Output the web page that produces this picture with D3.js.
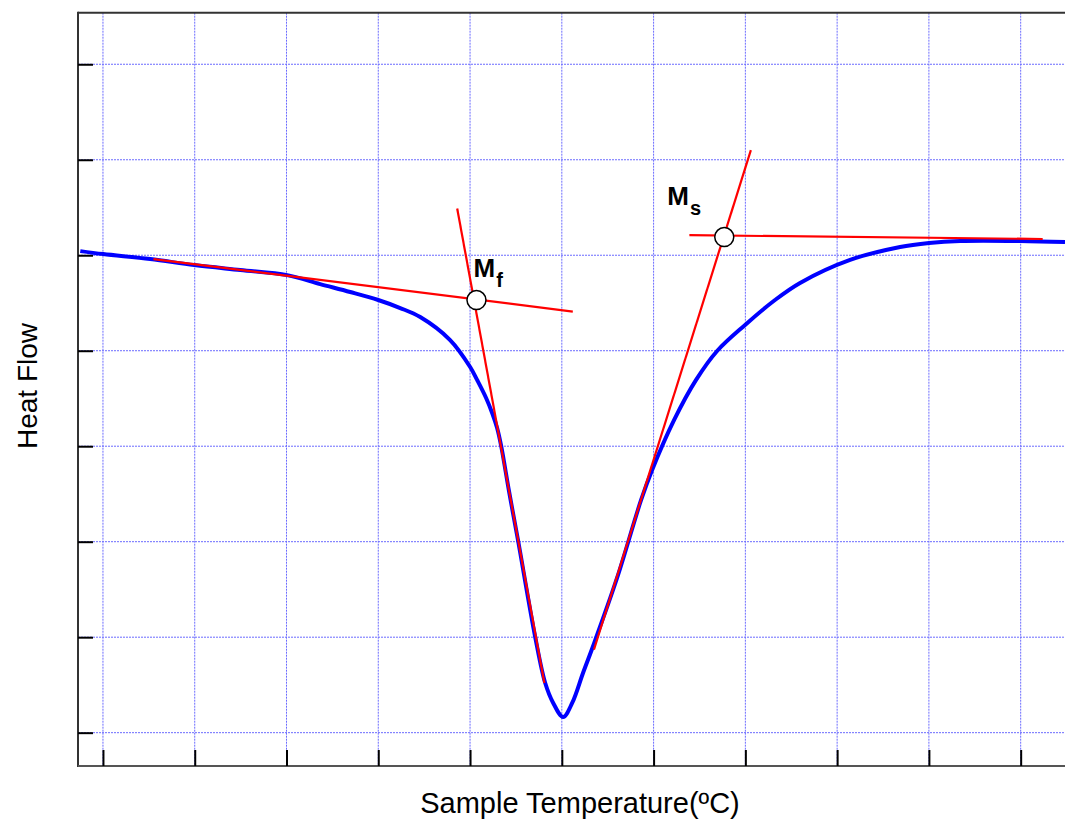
<!DOCTYPE html>
<html lang="en">
<head>
<meta charset="utf-8">
<title>DSC curve</title>
<style>
  body { margin: 0; background: #ffffff; overflow: hidden; font-family: "Liberation Sans", Arial, sans-serif; }
  .grid line { stroke: #6b6bff; stroke-width: 1; stroke-dasharray: 2,1; }
  .tick line { stroke: #000; stroke-width: 2; }
</style>
</head>
<body>
<div id="chart"></div>
<script src="https://cdn.jsdelivr.net/npm/d3@7/dist/d3.min.js"></script>
<script>
// tick positions (no labels shown on the axes)
var xTicks = [0, 1, 2, 3, 4, 5, 6, 7, 8, 9, 10];
var yTicks = [0, 1, 2, 3, 4, 5, 6, 7];

// heat flow curve, x in tick units, y in tick units
var curveT = [-0.247, 0.003, 0.515, 0.995, 1.496, 2.008, 2.367, 2.694, 2.999, 3.239, 3.457, 3.783, 4.001, 4.077, 4.175, 4.241, 4.295, 4.339, 4.426, 4.524, 4.710, 4.819, 4.906, 5.014, 5.113, 5.231, 5.341, 5.602, 5.864, 5.984, 6.224, 6.463, 6.692, 6.997, 7.323, 7.596, 8.141, 8.686, 9.002, 9.340, 9.993, 10.483];
var curveV = [5.043, 5.012, 4.960, 4.897, 4.845, 4.792, 4.698, 4.615, 4.531, 4.447, 4.353, 4.112, 3.830, 3.694, 3.505, 3.348, 3.191, 3.003, 2.521, 2.008, 1.002, 0.520, 0.311, 0.164, 0.311, 0.625, 0.908, 1.620, 2.437, 2.751, 3.275, 3.694, 3.997, 4.270, 4.531, 4.710, 4.951, 5.087, 5.129, 5.150, 5.150, 5.139];

// construction lines [x1, y1, x2, y2]
var mfBaseline = [0.55, 4.96, 5.12, 4.41];
var mfTangent = [3.86, 5.49, 4.81, 0.52];
var msBaseline = [6.39, 5.21, 10.24, 5.17];
var msTangent = [7.06, 6.10, 5.35, 0.87];

// intersection markers
var markerNames = ["f", "s"];
var markerT = [4.07, 6.77];
var markerV = [4.53, 5.19];

var W = 1065, H = 824;
var pLeft = 78, pRight = 1065, pTop = 12.7, pBottom = 766;

var svg = d3.select("#chart").append("svg")
  .attr("width", W)
  .attr("height", H);

var x = d3.scaleLinear().domain([-0.272, 10.483]).range([pLeft, pRight]);
var y = d3.scaleLinear().domain([-0.349, 7.54]).range([pBottom, pTop]);

// grid
var grid = svg.append("g").attr("class", "grid");
grid.selectAll(".hg").data(yTicks).enter().append("line")
  .attr("x1", pLeft).attr("x2", pRight)
  .attr("y1", function(d) { return y(d); })
  .attr("y2", function(d) { return y(d); });
grid.selectAll(".vg").data(xTicks).enter().append("line")
  .attr("y1", pTop).attr("y2", pBottom)
  .attr("x1", function(d) { return x(d); })
  .attr("x2", function(d) { return x(d); });

// frame
svg.append("line").attr("x1", pLeft).attr("x2", pLeft).attr("y1", pTop - 1).attr("y2", pBottom + 1)
  .style("stroke", "#333").style("stroke-width", 2);
svg.append("line").attr("x1", pLeft).attr("x2", pRight).attr("y1", pTop).attr("y2", pTop)
  .style("stroke", "#333").style("stroke-width", 2);
svg.append("line").attr("x1", pLeft).attr("x2", pRight).attr("y1", pBottom).attr("y2", pBottom)
  .style("stroke", "#555").style("stroke-width", 2);

// inward ticks
var yAxis = svg.append("g")
  .attr("transform", "translate(" + pLeft + ",0)")
  .call(d3.axisRight(y).tickValues(yTicks).tickSize(15).tickFormat(""));
yAxis.select(".domain").remove();
var xAxis = svg.append("g")
  .attr("transform", "translate(0," + pBottom + ")")
  .call(d3.axisTop(x).tickValues(xTicks).tickSize(16).tickFormat(""));
xAxis.select(".domain").remove();

// curve
var pts = curveT.map(function(t, i) { return [t, curveV[i]]; });
var line = d3.line()
  .x(function(d) { return x(d[0]); })
  .y(function(d) { return y(d[1]); })
  .curve(d3.curveCatmullRom.alpha(0.5));
svg.append("path").datum(pts)
  .attr("d", line)
  .style("fill", "none")
  .style("stroke", "#0000ff")
  .style("stroke-width", 4)
  .style("stroke-linejoin", "round");

// red construction lines
[mfBaseline, mfTangent, msBaseline, msTangent].forEach(function(l) {
  svg.append("line")
    .attr("x1", x(l[0])).attr("y1", y(l[1]))
    .attr("x2", x(l[2])).attr("y2", y(l[3]))
    .style("stroke", "#ff0000")
    .style("stroke-width", 2.2);
});

// markers + labels
var labelOffset = [[-3, -23], [-57, -32]];
markerNames.forEach(function(n, i) {
  var cx = x(markerT[i]), cy = y(markerV[i]);
  svg.append("circle")
    .attr("cx", cx).attr("cy", cy).attr("r", 9.5)
    .style("fill", "#fff")
    .style("stroke", "#000")
    .style("stroke-width", 1.5);
  var txt = svg.append("text")
    .attr("x", cx + labelOffset[i][0])
    .attr("y", cy + labelOffset[i][1])
    .style("font-weight", "bold")
    .style("font-size", "26px")
    .style("fill", "#000");
  txt.append("tspan").text("M");
  txt.append("tspan").attr("dx", 1).attr("dy", 10).style("font-size", "20px").text(n);
});

// axis titles
svg.append("text")
  .attr("x", 580).attr("y", 813)
  .attr("text-anchor", "middle")
  .style("font-size", "29px")
  .text("Sample Temperature(ºC)");
svg.append("text")
  .attr("transform", "translate(37,386) rotate(-90)")
  .attr("text-anchor", "middle")
  .style("font-size", "28px")
  .text("Heat Flow");
</script>
</body>
</html>
